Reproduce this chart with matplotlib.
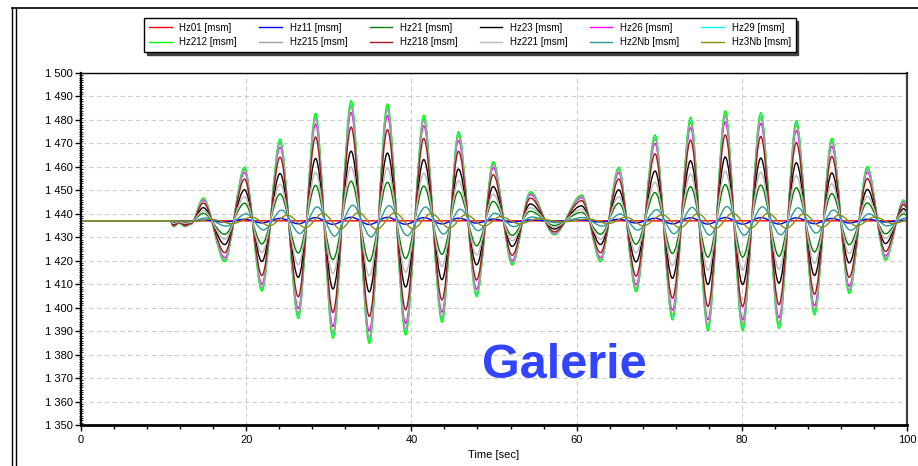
"""
Frequency record of several measuring points (Hz channels) vs. time, 'Galerie' view.
Output: out.png (918x466)
"""

import matplotlib
matplotlib.use("Agg")
import matplotlib.pyplot as plt
from matplotlib.lines import Line2D
from matplotlib.patches import PathPatch
from matplotlib.path import Path
from matplotlib.ticker import FuncFormatter, MultipleLocator

plt.rcParams["font.family"] = ["Liberation Sans", "DejaVu Sans"]

# Peaks / troughs of the largest channel (Hz212)
T_EXT = [0.0, 10.8, 11.2, 11.9, 12.6, 13.3, 14.8, 17.4, 19.8, 21.9, 24.1, 26.3, 28.4,
         30.5, 32.7, 34.9, 37.1, 39.3, 41.5, 43.7, 45.7, 47.9, 49.9, 52.2, 54.4, 57.3,
         60.6, 62.9, 65.1, 67.2, 69.5, 71.6, 73.8, 75.9, 78.0, 80.1, 82.3, 84.5, 86.6,
         88.8, 90.9, 93.0, 95.2, 97.4, 99.6, 100.0]
HZ212_EXT = [1437.0, 1437.0, 1434.5, 1436.0, 1434.5, 1435.5, 1446.7, 1419.6, 1459.8,
             1407.1, 1471.8, 1395.5, 1482.8, 1387.0, 1488.2, 1384.8, 1486.8, 1388.4,
             1482.0, 1393.8, 1475.0, 1404.7, 1462.2, 1418.2, 1449.4, 1431.0, 1448.0,
             1419.6, 1459.8, 1406.8, 1473.6, 1394.8, 1481.1, 1390.2, 1483.9, 1390.2,
             1483.1, 1391.2, 1479.7, 1396.9, 1472.2, 1406.1, 1460.1, 1420.3, 1445.9,
             1444.0]
BASELINE = 1437.0

# channels in legend order; amplitude relative to Hz212 and time lag (s)
NAMES = ["Hz01", "Hz11", "Hz21", "Hz23", "Hz26", "Hz29",
         "Hz212", "Hz215", "Hz218", "Hz221", "Hz2Nb", "Hz3Nb"]
GAIN = [0.0, 0.03, 0.33, 0.58, 0.90, 0.97, 1.0, 0.95, 0.78, 0.45, 0.13, 0.07]
LAG = [0.0, 0.0, 0.0, 0.0, 0.0, 0.0, 0.0, 0.0, 0.0, 0.0, 0.2, 0.9]
COLORS = ["#ff0000", "#0000ff", "#008000", "#000000", "#ff00ff", "#00ffff",
          "#00ff00", "#a0a0a0", "#a01818", "#b8b8b8", "#2a9a9a", "#8c8c10"]


def smooth_path(t, v):
    # cubic segments with flat tangents at each extremum
    verts = [(t[0], v[0])]
    codes = [Path.MOVETO]
    for i in range(1, len(t)):
        dt = t[i] - t[i - 1]
        verts += [(t[i - 1] + dt / 3, v[i - 1]), (t[i] - dt / 3, v[i]), (t[i], v[i])]
        codes += [Path.CURVE4] * 3
    return Path(verts, codes)


W, H = 918, 466
fig = plt.figure(figsize=(W / 100, H / 100), dpi=100)
fig.patch.set_facecolor("white")

# plot area in pixels: left 81, right 907, top 73, bottom 425
ax = fig.add_axes([81 / W, (H - 425) / H, 826 / W, 352 / H])

for name, g, lag, c in zip(NAMES, GAIN, LAG, COLORS):
    t = [x + lag if x > 0 else x for x in T_EXT]
    v = [BASELINE + g * (y - BASELINE) for y in HZ212_EXT]
    ax.add_patch(PathPatch(smooth_path(t, v), fill=False, edgecolor=c, lw=1.0))

ax.set_xlim(0, 100)
ax.set_ylim(1350, 1500)
ax.xaxis.set_major_locator(MultipleLocator(20))
ax.xaxis.set_minor_locator(MultipleLocator(4))
ax.yaxis.set_major_locator(MultipleLocator(10))
ax.yaxis.set_minor_locator(MultipleLocator(1))
ax.yaxis.set_major_formatter(FuncFormatter(lambda v, p: f"{int(v):,}".replace(",", " ")))

ax.tick_params(axis="both", which="major", labelsize=8, length=4, width=1, direction="out")
ax.tick_params(axis="x", which="minor", length=3, width=1, direction="out")
ax.tick_params(axis="y", which="minor", length=2.5, width=0.6, direction="inout")
ax.tick_params(axis="x", pad=3)
ax.tick_params(axis="y", pad=2)

ax.grid(True, which="major", color="#cccccc", linestyle=(0, (4, 3)), linewidth=0.8)
ax.set_axisbelow(True)

ax.spines["left"].set_linewidth(1.6)
ax.spines["bottom"].set_linewidth(2.0)
ax.spines["top"].set_linewidth(1.0)
ax.spines["right"].set_linewidth(1.6)
ax.spines["right"].set_color("#404040")

ax.set_xlabel("Time [sec]", fontsize=8, labelpad=4)

ax.text(0.585, 0.168, "Galerie", transform=ax.transAxes, ha="center", va="center",
        fontsize=35, fontweight="bold", color="#3344ff")

# legend: columns are filled top-down, so interleave the two rows
handles = [Line2D([], [], color=c, lw=1.0) for c in COLORS]
labels = [f"{n} [msm]" for n in NAMES]
order = [0, 6, 1, 7, 2, 8, 3, 9, 4, 10, 5, 11]
fig.legend([handles[i] for i in order], [labels[i] for i in order],
           loc="center", bbox_to_anchor=(470 / W, (H - 35) / H), ncol=6,
           fontsize=7, frameon=True, fancybox=False, edgecolor="black",
           shadow={"color": "0.25", "alpha": 1.0}, handlelength=2.3,
           handletextpad=0.8, columnspacing=2.3, labelspacing=0.45,
           borderpad=0.5, borderaxespad=0)

# window frame lines
fig.add_artist(Line2D([12 / W, 12 / W], [0, 1 - 8 / H], color="black", lw=1, transform=fig.transFigure))
fig.add_artist(Line2D([16 / W, 16 / W], [0, 1 - 8 / H], color="black", lw=1, transform=fig.transFigure))
fig.add_artist(Line2D([12 / W, 1], [1 - 8 / H, 1 - 8 / H], color="black", lw=1.2, transform=fig.transFigure))

fig.savefig("out.png", dpi=100, facecolor=fig.get_facecolor())
